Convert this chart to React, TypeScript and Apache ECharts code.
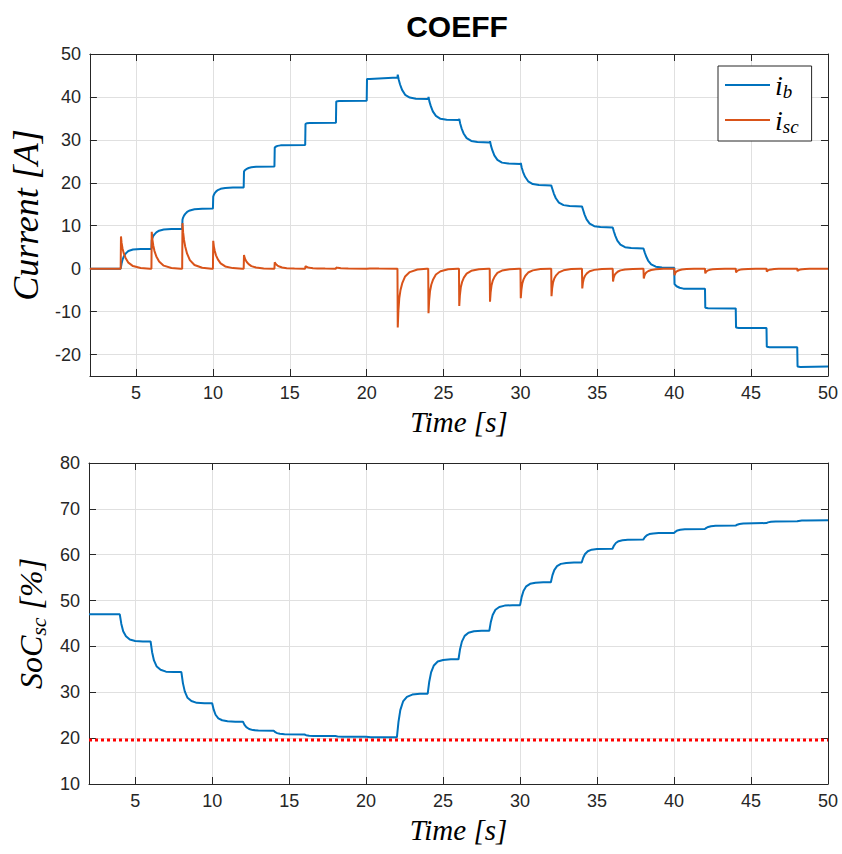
import React, { useEffect, useRef } from 'react';
import * as echarts from 'echarts';

// Battery current i_b [A] (time s, value)
const ibData: [number, number][] = [
  [2, 0], [4, 0],
  [4.06, 1.2], [4.12, 2.1], [4.2, 2.8], [4.32, 3.5], [4.5, 4.1], [4.8, 4.45], [5.3, 4.58], [6, 4.6],
  [6.02, 6.6], [6.06, 7.1], [6.12, 7.6], [6.2, 8.0], [6.32, 8.45], [6.5, 8.85], [6.8, 9.1], [7.3, 9.22], [8, 9.25],
  [8.02, 11.4], [8.06, 11.9], [8.12, 12.35], [8.2, 12.75], [8.32, 13.2], [8.5, 13.55], [8.8, 13.85], [9.3, 13.97], [10, 14.0],
  [10.02, 16.8], [10.06, 17.2], [10.12, 17.6], [10.2, 17.95], [10.32, 18.3], [10.5, 18.6], [10.8, 18.8], [11.3, 18.88], [12, 18.9],
  [12.02, 22.6], [12.06, 22.85], [12.12, 23.05], [12.2, 23.25], [12.32, 23.45], [12.5, 23.6], [12.8, 23.72], [14, 23.8],
  [14.02, 28.2], [14.08, 28.4], [14.2, 28.6], [14.4, 28.72], [16, 28.8],
  [16.02, 33.7], [16.1, 33.85], [16.3, 33.95], [18, 34.0],
  [18.02, 38.95], [18.2, 39.05], [20, 39.1],
  [20.02, 44.15], [20.2, 44.2], [22, 44.5],
  [22.02, 45.2], [22.08, 44.05], [22.17, 42.9], [22.3, 41.65], [22.5, 40.5], [22.8, 39.85], [23.2, 39.6], [24, 39.5],
  [24.02, 40.0], [24.08, 38.9], [24.17, 37.85], [24.3, 36.65], [24.5, 35.6], [24.8, 34.9], [25.2, 34.7], [26, 34.6],
  [26.02, 34.9], [26.08, 33.8], [26.17, 32.7], [26.3, 31.5], [26.5, 30.4], [26.8, 29.75], [27.2, 29.5], [28, 29.4],
  [28.02, 29.7], [28.08, 28.65], [28.17, 27.6], [28.3, 26.4], [28.5, 25.35], [28.8, 24.7], [29.2, 24.5], [30, 24.4],
  [30.02, 24.6], [30.08, 23.55], [30.17, 22.5], [30.3, 21.4], [30.5, 20.35], [30.8, 19.7], [31.2, 19.5], [32, 19.4],
  [32.02, 19.5], [32.08, 18.5], [32.17, 17.5], [32.3, 16.4], [32.5, 15.4], [32.8, 14.8], [33.2, 14.6], [34, 14.5],
  [34.02, 14.6], [34.08, 13.6], [34.17, 12.6], [34.3, 11.5], [34.5, 10.5], [34.8, 9.9], [35.2, 9.7], [36, 9.6],
  [36.02, 9.6], [36.08, 8.6], [36.17, 7.65], [36.3, 6.55], [36.5, 5.6], [36.8, 5.0], [37.2, 4.8], [38, 4.7],
  [38.02, 4.7], [38.08, 3.8], [38.17, 2.9], [38.3, 1.9], [38.5, 1.0], [38.8, 0.45], [39.2, 0.27], [40, 0.2],
  [40.02, -3.6], [40.15, -4.1], [40.35, -4.45], [40.6, -4.65], [41, -4.7], [42, -4.7],
  [42.02, -9.1], [42.2, -9.2], [44, -9.25],
  [44.02, -13.7], [44.2, -13.8], [46, -13.8],
  [46.02, -18.2], [46.2, -18.3], [48, -18.3],
  [48.02, -22.8], [48.2, -22.9], [50, -22.8],
];

// Supercapacitor current i_sc [A]
const iscData: [number, number][] = [
  [2, 0], [4, 0],
  [4.02, 7.5], [4.06, 6.0], [4.12, 4.7], [4.2, 3.6], [4.32, 2.5], [4.5, 1.4], [4.8, 0.6], [5.3, 0.15], [5.9, 0], [6, 0],
  [6.02, 8.6], [6.06, 6.9], [6.12, 5.4], [6.2, 4.1], [6.32, 2.85], [6.5, 1.65], [6.8, 0.7], [7.3, 0.17], [7.9, 0], [8, 0],
  [8.02, 10.6], [8.06, 8.5], [8.12, 6.7], [8.2, 5.1], [8.32, 3.5], [8.5, 2.0], [8.8, 0.85], [9.3, 0.2], [9.9, 0], [10, 0],
  [10.02, 6.5], [10.06, 5.2], [10.12, 4.1], [10.2, 3.1], [10.32, 2.15], [10.5, 1.25], [10.8, 0.52], [11.3, 0.13], [11.9, 0], [12, 0],
  [12.02, 3.2], [12.06, 2.55], [12.12, 2.0], [12.2, 1.55], [12.32, 1.05], [12.5, 0.6], [12.8, 0.26], [13.3, 0.06], [13.9, 0], [14, 0],
  [14.02, 1.5], [14.06, 1.2], [14.12, 0.95], [14.2, 0.72], [14.32, 0.5], [14.5, 0.28], [14.8, 0.12], [15.3, 0.03], [15.9, 0], [16, 0],
  [16.02, 0.6], [16.06, 0.48], [16.12, 0.38], [16.2, 0.29], [16.32, 0.2], [16.5, 0.11], [16.8, 0.05], [17.3, 0.01], [18, 0],
  [18.02, 0.3], [18.12, 0.19], [18.32, 0.1], [18.8, 0.02], [20, 0],
  [20.02, 0.1], [20.2, 0.05], [20.8, 0.01], [22, 0],
  [22.02, -13.7], [22.06, -9.9], [22.12, -6.85], [22.2, -4.95], [22.32, -3.3], [22.5, -1.8], [22.8, -0.8], [23.3, -0.2], [23.9, 0], [24, 0],
  [24.02, -10.4], [24.06, -7.5], [24.12, -5.2], [24.2, -3.75], [24.32, -2.5], [24.5, -1.35], [24.8, -0.6], [25.3, -0.15], [25.9, 0], [26, 0],
  [26.02, -8.7], [26.06, -6.25], [26.12, -4.35], [26.2, -3.15], [26.32, -2.1], [26.5, -1.15], [26.8, -0.5], [27.3, -0.13], [27.9, 0], [28, 0],
  [28.02, -7.7], [28.06, -5.55], [28.12, -3.85], [28.2, -2.75], [28.32, -1.85], [28.5, -1.0], [28.8, -0.45], [29.3, -0.12], [29.9, 0], [30, 0],
  [30.02, -6.9], [30.06, -4.95], [30.12, -3.45], [30.2, -2.5], [30.32, -1.65], [30.5, -0.9], [30.8, -0.4], [31.3, -0.1], [31.9, 0], [32, 0],
  [32.02, -6.4], [32.06, -4.6], [32.12, -3.2], [32.2, -2.3], [32.32, -1.55], [32.5, -0.85], [32.8, -0.38], [33.3, -0.1], [33.9, 0], [34, 0],
  [34.02, -4.6], [34.06, -3.3], [34.12, -2.3], [34.2, -1.65], [34.32, -1.1], [34.5, -0.6], [34.8, -0.28], [35.3, -0.07], [35.9, 0], [36, 0],
  [36.02, -3.0], [36.06, -2.15], [36.12, -1.5], [36.2, -1.1], [36.32, -0.72], [36.5, -0.4], [36.8, -0.18], [37.3, -0.05], [37.9, 0], [38, 0],
  [38.02, -2.3], [38.06, -1.65], [38.12, -1.15], [38.2, -0.83], [38.32, -0.55], [38.5, -0.3], [38.8, -0.14], [39.3, -0.03], [39.9, 0], [40, 0],
  [40.02, -1.5], [40.06, -1.08], [40.12, -0.75], [40.2, -0.54], [40.32, -0.36], [40.5, -0.2], [40.8, -0.09], [41.3, -0.02], [42, 0],
  [42.02, -1.1], [42.06, -0.8], [42.12, -0.55], [42.2, -0.4], [42.32, -0.26], [42.5, -0.14], [42.8, -0.07], [43.3, 0], [44, 0],
  [44.02, -0.9], [44.06, -0.65], [44.12, -0.45], [44.2, -0.32], [44.32, -0.22], [44.5, -0.12], [44.8, -0.05], [45.3, 0], [46, 0],
  [46.02, -0.7], [46.06, -0.5], [46.12, -0.35], [46.2, -0.25], [46.32, -0.17], [46.5, -0.09], [46.8, -0.04], [47.3, 0], [48, 0],
  [48.02, -0.55], [48.06, -0.4], [48.12, -0.28], [48.2, -0.2], [48.32, -0.13], [48.5, -0.07], [48.8, -0.03], [49.3, 0], [50, 0],
];

// Supercapacitor state of charge SoC_sc [%]
const socData: [number, number][] = [
  [2, 47.0], [4, 47.0],
  [4.1, 44.9], [4.22, 43.3], [4.4, 42.2], [4.65, 41.5], [5.0, 41.2], [5.5, 41.1], [6, 41.1],
  [6.1, 38.75], [6.22, 36.95], [6.4, 35.6], [6.65, 34.9], [7.0, 34.5], [7.5, 34.4], [8, 34.4],
  [8.1, 32.0], [8.22, 30.2], [8.4, 28.8], [8.65, 28.1], [9.0, 27.7], [9.5, 27.6], [10, 27.6],
  [10.1, 26.2], [10.22, 25.1], [10.4, 24.3], [10.65, 23.9], [11.0, 23.7], [11.5, 23.6], [12, 23.6],
  [12.1, 22.9], [12.22, 22.4], [12.4, 22.0], [12.65, 21.75], [13.0, 21.65], [14, 21.6],
  [14.1, 21.3], [14.22, 21.1], [14.4, 20.95], [14.7, 20.85], [16, 20.8],
  [16.1, 20.65], [16.3, 20.53], [16.6, 20.47], [18, 20.45],
  [18.15, 20.37], [18.5, 20.31], [20, 20.3],
  [20.3, 20.22], [22, 20.2],
  [22.1, 23.5], [22.22, 26.1], [22.4, 28.0], [22.65, 29.0], [23.0, 29.5], [23.5, 29.7], [24, 29.7],
  [24.1, 32.3], [24.22, 34.35], [24.4, 35.85], [24.65, 36.7], [25.0, 37.05], [25.5, 37.2], [26, 37.2],
  [26.1, 39.4], [26.22, 41.05], [26.4, 42.3], [26.65, 43.0], [27.0, 43.3], [27.5, 43.4], [28, 43.4],
  [28.1, 45.35], [28.22, 46.85], [28.4, 48.0], [28.65, 48.6], [29.0, 48.9], [29.5, 49.0], [30, 49.0],
  [30.1, 50.75], [30.22, 52.1], [30.4, 53.1], [30.65, 53.65], [31.0, 53.9], [31.5, 54.0], [32, 54.0],
  [32.1, 55.5], [32.22, 56.65], [32.4, 57.5], [32.65, 58.0], [33.0, 58.2], [33.5, 58.3], [34, 58.3],
  [34.1, 59.35], [34.22, 60.15], [34.4, 60.75], [34.65, 61.1], [35.0, 61.25], [36, 61.3],
  [36.1, 62.0], [36.22, 62.55], [36.4, 62.95], [36.65, 63.15], [37.0, 63.25], [38, 63.3],
  [38.1, 63.8], [38.22, 64.2], [38.4, 64.5], [38.65, 64.65], [39.0, 64.72], [40, 64.75],
  [40.1, 65.05], [40.22, 65.3], [40.4, 65.45], [40.7, 65.55], [42, 65.6],
  [42.1, 65.85], [42.22, 66.05], [42.4, 66.2], [42.7, 66.3], [44, 66.35],
  [44.1, 66.55], [44.25, 66.7], [44.5, 66.83], [46, 66.9],
  [46.1, 67.05], [46.3, 67.18], [46.6, 67.26], [48, 67.3],
  [48.1, 67.37], [48.3, 67.44], [48.6, 67.48], [50, 67.5],
];

// Minimum SoC limit [%]
const socMinData: [number, number][] = [[2, 19.6], [50, 19.6]];

const timeRange = [2, 50];
const currentRange = [-25, 50];
const socRange = [10, 80];

const BLUE = '#0072BD';
const ORANGE = '#D95319';
const AX = '#262626';
const GRID = '#e0e0e0';
const SANS = 'Liberation Sans';
const SERIF = 'Liberation Serif';

function mainX(gridIndex: number) {
  return {
    type: 'value', gridIndex, position: 'bottom',
    min: timeRange[0], max: timeRange[1], splitNumber: 10,
    axisLine: { show: true, onZero: false, lineStyle: { color: AX, width: 1 } },
    axisTick: { show: true, inside: true, length: 7, lineStyle: { color: AX } },
    axisLabel: { show: true, showMinLabel: false, color: AX, fontSize: 18, fontFamily: SANS, margin: 8 },
    splitLine: { show: true, lineStyle: { color: GRID, width: 1 } },
    name: 'Time [s]', nameLocation: 'middle', nameGap: 31,
    nameTextStyle: { fontFamily: SERIF, fontStyle: 'italic', fontSize: 29, color: '#000' },
  };
}
function boxX(gridIndex: number) {
  return {
    type: 'value', gridIndex, position: 'top',
    min: timeRange[0], max: timeRange[1], splitNumber: 10,
    axisLine: { show: true, onZero: false, lineStyle: { color: AX, width: 1 } },
    axisTick: { show: true, inside: true, length: 7, lineStyle: { color: AX } },
    axisLabel: { show: false }, splitLine: { show: false },
  };
}
function boxY(gridIndex: number, range: number[], splitNumber: number) {
  return {
    type: 'value', gridIndex, position: 'right',
    min: range[0], max: range[1], splitNumber,
    axisLine: { show: true, onZero: false, lineStyle: { color: AX, width: 1 } },
    axisTick: { show: true, inside: true, length: 7, lineStyle: { color: AX } },
    axisLabel: { show: false }, splitLine: { show: false },
  };
}

export default function App() {
  const ref = useRef<HTMLDivElement>(null);
  useEffect(() => {
    if (!ref.current) return;
    const chart = echarts.init(ref.current, undefined, { renderer: 'svg' });
    const option: any = {
      animation: false,
      backgroundColor: '#fff',
      title: {
        text: 'COEFF', left: 452, top: 6, textAlign: 'center',
        textStyle: { fontFamily: SANS, fontWeight: 'bold', fontSize: 30, color: '#000' },
      },
      legend: {
        orient: 'vertical', left: 718, top: 66,
        data: ['i_b', 'i_sc'],
        backgroundColor: '#fff', borderColor: AX, borderWidth: 1, borderRadius: 0,
        padding: [5, 13, 5, 7], itemGap: 5, itemWidth: 45, itemHeight: 2, icon: 'rect',
        formatter: (n: string) => (n === 'i_b' ? '{m|i}{s|b}' : '{m|i}{s|sc}'),
        textStyle: {
          color: '#000',
          rich: {
            m: { fontFamily: SERIF, fontStyle: 'italic', fontSize: 28, lineHeight: 32, color: '#000' },
            s: { fontFamily: SERIF, fontStyle: 'italic', fontSize: 19, lineHeight: 14, verticalAlign: 'bottom', color: '#000' },
          },
        },
      },
      grid: [
        { left: 89, top: 54, width: 739, height: 322, containLabel: false },
        { left: 89, top: 463, width: 739, height: 321, containLabel: false },
      ],
      xAxis: [mainX(0), boxX(0), mainX(1), boxX(1)],
      yAxis: [
        {
          type: 'value', gridIndex: 0, position: 'left',
          min: currentRange[0], max: currentRange[1], splitNumber: 8,
          axisLine: { show: true, onZero: false, lineStyle: { color: AX, width: 1 } },
          axisTick: { show: true, inside: true, length: 7, lineStyle: { color: AX } },
          axisLabel: { show: true, showMinLabel: false, color: AX, fontSize: 18, fontFamily: SANS, margin: 9 },
          splitLine: { show: true, lineStyle: { color: GRID, width: 1 } },
          name: 'Current [A]', nameLocation: 'middle', nameGap: 38,
          nameTextStyle: { fontFamily: SERIF, fontStyle: 'italic', fontSize: 36, color: '#000' },
        },
        boxY(0, currentRange, 8),
        {
          type: 'value', gridIndex: 1, position: 'left',
          min: socRange[0], max: socRange[1], interval: 10,
          axisLine: { show: true, onZero: false, lineStyle: { color: AX, width: 1 } },
          axisTick: { show: true, inside: true, length: 7, lineStyle: { color: AX } },
          axisLabel: { show: true, color: AX, fontSize: 18, fontFamily: SANS, margin: 9 },
          splitLine: { show: true, lineStyle: { color: GRID, width: 1 } },
          name: '{a|SoC}{b|sc}{a| [%]}', nameLocation: 'middle', nameGap: 40,
          nameTextStyle: {
            color: '#000',
            rich: {
              a: { fontFamily: SERIF, fontStyle: 'italic', fontSize: 32, lineHeight: 36, color: '#000' },
              b: { fontFamily: SERIF, fontStyle: 'italic', fontSize: 22, lineHeight: 15, verticalAlign: 'bottom', color: '#000' },
            },
          },
        },
        {
          type: 'value', gridIndex: 1, position: 'right',
          min: socRange[0], max: socRange[1], interval: 10,
          axisLine: { show: true, onZero: false, lineStyle: { color: AX, width: 1 } },
          axisTick: { show: true, inside: true, length: 7, lineStyle: { color: AX } },
          axisLabel: { show: false }, splitLine: { show: false },
        },
      ],
      series: [
        {
          name: 'i_b', type: 'line', xAxisIndex: 0, yAxisIndex: 0, data: ibData,
          showSymbol: false, symbol: 'none', lineStyle: { color: BLUE, width: 2 }, itemStyle: { color: BLUE },
        },
        {
          name: 'i_sc', type: 'line', xAxisIndex: 0, yAxisIndex: 0, data: iscData,
          showSymbol: false, symbol: 'none', lineStyle: { color: ORANGE, width: 2 }, itemStyle: { color: ORANGE },
        },
        {
          name: 'SoC_sc', type: 'line', xAxisIndex: 2, yAxisIndex: 2, data: socData,
          showSymbol: false, symbol: 'none', lineStyle: { color: BLUE, width: 2 }, itemStyle: { color: BLUE },
        },
        {
          name: 'SoC_min', type: 'line', xAxisIndex: 2, yAxisIndex: 2, data: socMinData,
          showSymbol: false, symbol: 'none', lineStyle: { color: '#ff0000', width: 3, type: [3, 3] }, itemStyle: { color: '#ff0000' },
        },
      ],
    };
    chart.setOption(option);
    return () => chart.dispose();
  }, []);
  return <div ref={ref} style={{ position: 'fixed', left: 0, top: 0, width: 842, height: 854 }} />;
}
